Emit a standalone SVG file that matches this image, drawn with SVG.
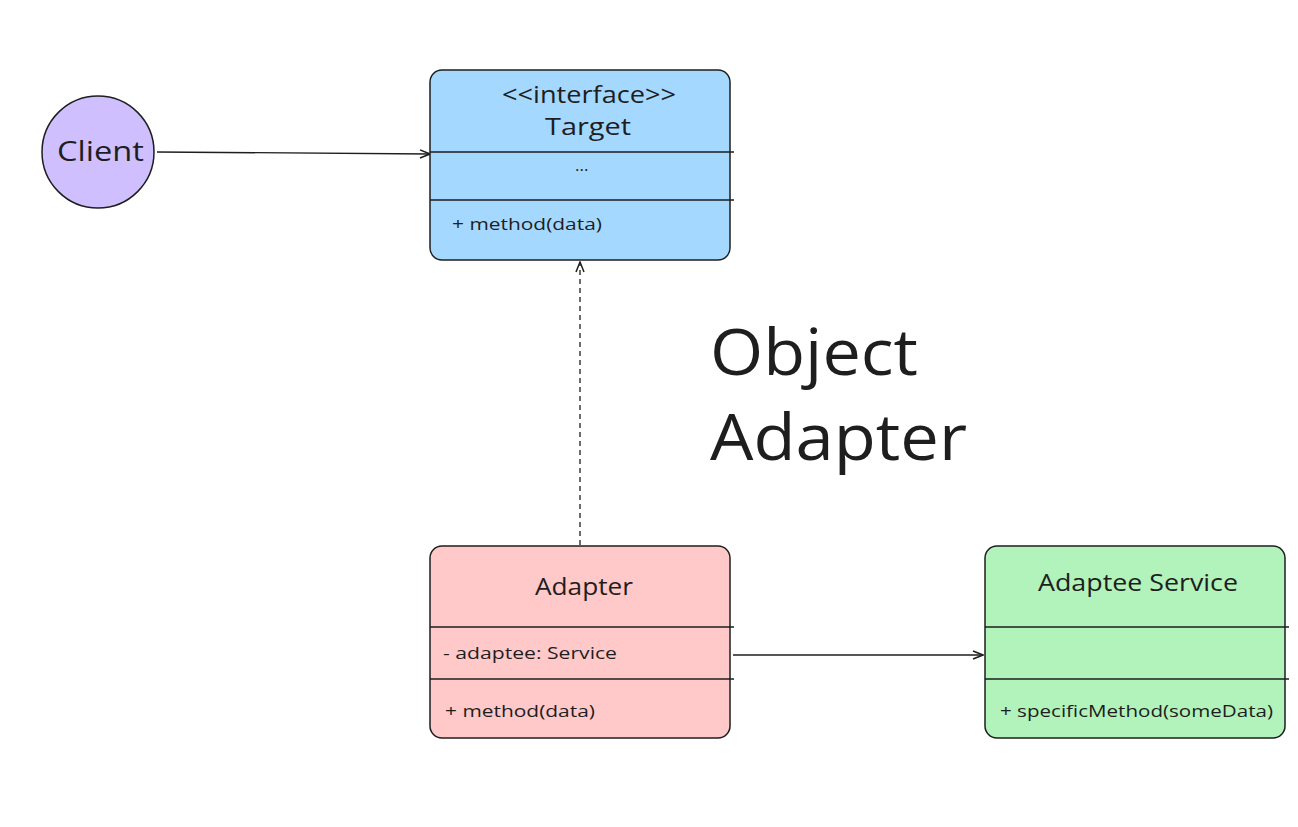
<svg xmlns="http://www.w3.org/2000/svg" width="1298" height="827" viewBox="0 0 1298 827">
<style>
.box{stroke:#1e1e1e;stroke-width:1.5}
.div{stroke:#1e1e1e;stroke-width:1.5;fill:none}
.t{font-family:"Open Sans","Liberation Sans",sans-serif;fill:#1e1e1e}
.title{font-size:24px}
.mem{font-size:17px}
.conn{stroke:#1e1e1e;stroke-width:1.3;fill:none}
</style>
<defs>
<marker id="arr" viewBox="0 0 12 12" refX="11" refY="6" markerWidth="12" markerHeight="12" markerUnits="userSpaceOnUse" orient="auto">
<path d="M1,2 L11,6 L1,10" fill="none" stroke="#1e1e1e" stroke-width="1.5"/>
</marker>
</defs>
<rect width="1298" height="827" fill="#ffffff"/>
<g id="connectors">
<path class="conn" d="M157,152 L430,154" marker-end="url(#arr)"/>
<path class="conn" d="M580,545 L580,262" stroke-dasharray="5,4" stroke-width="2" marker-end="url(#arr)"/>
<path class="conn" d="M733,655 L983,655" marker-end="url(#arr)"/>
</g>
<g id="client">
<circle cx="98" cy="152" r="56" fill="#d0bfff" class="box"/>
<text x="57" y="161" class="t" font-size="28" textLength="87" lengthAdjust="spacingAndGlyphs">Client</text>
</g>
<g id="target">
<rect x="430" y="70" width="300" height="190" rx="12" fill="#a5d8ff" class="box"/>
<path class="div" d="M430,152 L734,152 M430,200 L734,200"/>
<text x="502" y="103" class="t title" textLength="174" lengthAdjust="spacingAndGlyphs">&lt;&lt;interface&gt;&gt;</text>
<text x="545" y="135" class="t title" textLength="86" lengthAdjust="spacingAndGlyphs">Target</text>
<text x="575" y="171" class="t mem">...</text>
<text x="452" y="230" class="t mem" textLength="150" lengthAdjust="spacingAndGlyphs">+ method(data)</text>
</g>
<g id="adapter">
<rect x="430" y="546" width="300" height="192" rx="12" fill="#ffc9c9" class="box"/>
<path class="div" d="M430,627 L734,627 M430,679 L734,679"/>
<text x="535" y="595" class="t title" textLength="98" lengthAdjust="spacingAndGlyphs">Adapter</text>
<text x="443" y="659" class="t mem" textLength="174" lengthAdjust="spacingAndGlyphs">- adaptee: Service</text>
<text x="445" y="717" class="t mem" textLength="150" lengthAdjust="spacingAndGlyphs">+ method(data)</text>
</g>
<g id="adaptee">
<rect x="985" y="546" width="300" height="192" rx="12" fill="#b2f2bb" class="box"/>
<path class="div" d="M985,627 L1289,627 M985,679 L1289,679"/>
<text x="1038" y="591" class="t title" textLength="200" lengthAdjust="spacingAndGlyphs">Adaptee Service</text>
<text x="1000" y="717" class="t mem" textLength="273" lengthAdjust="spacingAndGlyphs">+ specificMethod(someData)</text>
</g>
<g id="label">
<text x="710" y="375" class="t" font-size="64" textLength="208" lengthAdjust="spacingAndGlyphs">Object</text>
<text x="710" y="460" class="t" font-size="64" textLength="257" lengthAdjust="spacingAndGlyphs">Adapter</text>
</g>
</svg>
